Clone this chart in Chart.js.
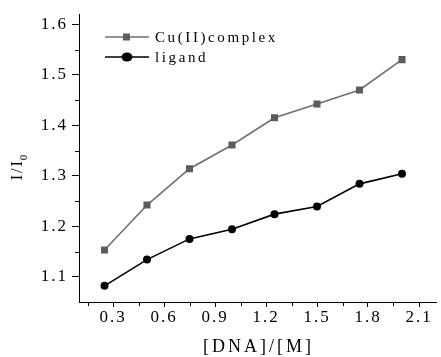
<!DOCTYPE html>
<html>
<head>
<meta charset="utf-8">
<script src="https://cdn.jsdelivr.net/npm/chart.js@4"></script>
<style>
  html, body { margin: 0; padding: 0; background: #fff; }
  #wrap { width: 441px; height: 357px; }
</style>
</head>
<body>
<div id="wrap"><canvas id="chart"></canvas></div>
<script>
// [DNA]/[M] ratios and relative intensities
const ratios = [0.25, 0.5, 0.75, 1.0, 1.25, 1.5, 1.75, 2.0];
const complexValues = [1.153, 1.242, 1.314, 1.361, 1.415, 1.442, 1.470, 1.530];
const ligandValues = [1.082, 1.134, 1.175, 1.194, 1.224, 1.239, 1.284, 1.304];
const seriesNames = ['Cu(II)complex', 'ligand'];
const xTicks = [0.3, 0.6, 0.9, 1.2, 1.5, 1.8, 2.1];
const yTicks = [1.1, 1.2, 1.3, 1.4, 1.5, 1.6];
const xMinorTicks = [0.15, 0.45, 0.75, 1.05, 1.35, 1.65, 1.95];
const yMinorTicks = [1.15, 1.25, 1.35, 1.45, 1.55];
const xTitle = '[DNA]/[M]';

const FONT = '"Liberation Serif", "Times New Roman", serif';

const points = (xs, ys) => xs.map((x, i) => ({ x: x, y: ys[i] }));

// minor ticks, spaced text, axis titles and the line+marker legend
const decorPlugin = {
  id: 'decor',
  beforeDraw(chart) {
    chart.ctx.letterSpacing = '2px';
  },
  afterDraw(chart) {
    const ctx = chart.ctx;
    const xs = chart.scales.x, ys = chart.scales.y;
    const area = chart.chartArea;
    ctx.save();
    ctx.strokeStyle = '#000';
    ctx.lineWidth = 1;
    ctx.beginPath();
    xMinorTicks.forEach(v => {
      const px = Math.round(xs.getPixelForValue(v)) + 0.5;
      ctx.moveTo(px, area.bottom);
      ctx.lineTo(px, area.bottom + 4);
    });
    yMinorTicks.forEach(v => {
      const py = Math.round(ys.getPixelForValue(v)) + 0.5;
      ctx.moveTo(area.left, py);
      ctx.lineTo(area.left - 4, py);
    });
    ctx.stroke();

    // x title
    ctx.fillStyle = '#000';
    ctx.font = '18px ' + FONT;
    ctx.letterSpacing = '3px';
    ctx.textAlign = 'center';
    ctx.textBaseline = 'middle';
    ctx.fillText(xTitle, (area.left + area.right) / 2 + 1, 347);

    // y title: I/I0
    ctx.translate(18, 166);
    ctx.rotate(-Math.PI / 2);
    ctx.font = '16px ' + FONT;
    ctx.letterSpacing = '2px';
    ctx.textAlign = 'left';
    const main = 'I/I';
    const w = ctx.measureText(main).width;
    ctx.font = '11px ' + FONT;
    const ws = ctx.measureText('0').width;
    const start = -(w + ws) / 2;
    ctx.font = '16px ' + FONT;
    ctx.fillText(main, start, 0);
    ctx.font = '11px ' + FONT;
    ctx.fillText('0', start + w - 1, 6);
    ctx.restore();

    // legend
    ctx.save();
    ctx.letterSpacing = '2.6px';
    ctx.font = '15px ' + FONT;
    ctx.textBaseline = 'middle';
    ctx.textAlign = 'left';
    chart.data.datasets.forEach((ds, i) => {
      const y = 37 + i * 20;
      ctx.strokeStyle = ds.borderColor;
      ctx.lineWidth = ds.borderWidth;
      ctx.beginPath();
      ctx.moveTo(105, y);
      ctx.lineTo(149, y);
      ctx.stroke();
      ctx.fillStyle = ds.pointBackgroundColor;
      if (ds.pointStyle === 'rect') {
        ctx.fillRect(123, y - 3.5, 7, 7);
      } else {
        ctx.beginPath();
        ctx.ellipse(127, y, 5.5, 4.5, 0, 0, Math.PI * 2);
        ctx.fill();
      }
      ctx.fillStyle = '#000';
      ctx.fillText(ds.label, 155, y + 1);
    });
    ctx.restore();
  }
};

new Chart(document.getElementById('chart'), {
  type: 'line',
  data: {
    datasets: [
      {
        label: seriesNames[0],
        data: points(ratios, complexValues),
        borderColor: '#6f6f6f',
        borderWidth: 1.6,
        pointStyle: 'rect',
        pointRadius: 5,
        pointBackgroundColor: '#5c5c5c',
        pointBorderWidth: 0,
        tension: 0
      },
      {
        label: seriesNames[1],
        data: points(ratios, ligandValues),
        borderColor: '#000',
        borderWidth: 1.6,
        pointStyle: 'circle',
        pointRadius: 4,
        pointBackgroundColor: '#000',
        pointBorderWidth: 0,
        tension: 0
      }
    ]
  },
  options: {
    responsive: true,
    maintainAspectRatio: false,
    animation: false,
    devicePixelRatio: 1,
    layout: { padding: { top: 13, right: 0, left: 0, bottom: 0 } },
    plugins: {
      legend: { display: false },
      tooltip: { enabled: false }
    },
    scales: {
      x: {
        type: 'linear',
        min: 0.1,
        max: 2.2,
        afterBuildTicks: s => { s.ticks = xTicks.map(v => ({ value: v })); },
        afterFit: s => { s.height = 55; },
        border: { color: '#000', width: 1 },
        grid: { drawOnChartArea: false, color: '#000', tickLength: 5 },
        ticks: {
          color: '#000',
          padding: 0,
          font: { family: FONT, size: 17 },
          callback: v => v.toFixed(1)
        }
      },
      y: {
        min: 1.05,
        max: 1.62,
        afterBuildTicks: s => { s.ticks = yTicks.map(v => ({ value: v })); },
        afterFit: s => { s.width = 79; },
        border: { color: '#000', width: 1 },
        grid: { drawOnChartArea: false, color: '#000', tickLength: 7 },
        ticks: {
          color: '#000',
          padding: 4,
          font: { family: FONT, size: 17 },
          callback: v => v.toFixed(1)
        }
      }
    }
  },
  plugins: [decorPlugin]
});
</script>
</body>
</html>
